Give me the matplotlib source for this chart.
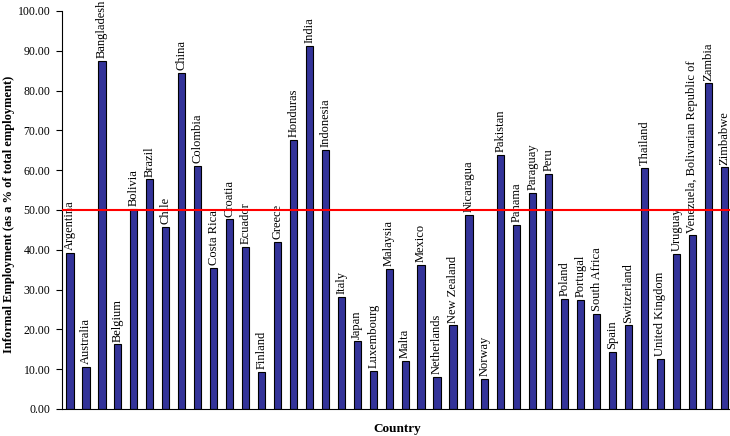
import matplotlib.pyplot as plt

countries = ["Argentina", "Australia", "Bangladesh", "Belgium", "Bolivia", "Brazil",
             "Chile", "China", "Colombia", "Costa Rica", "Croatia", "Ecuador",
             "Finland", "Greece", "Honduras", "India", "Indonesia", "Italy", "Japan",
             "Luxembourg", "Malaysia", "Malta", "Mexico", "Netherlands", "New Zealand",
             "Nicaragua", "Norway", "Pakistan", "Panama", "Paraguay", "Peru", "Poland",
             "Portugal", "South Africa", "Spain", "Switzerland", "Thailand",
             "United Kingdom", "Uruguay", "Venezuela, Bolivarian Republic of",
             "Zambia", "Zimbabwe"]
informal = [39.3, 10.6, 87.4, 16.2, 50.3, 57.7,
            45.8, 84.4, 61.1, 35.5, 47.6, 40.7,
            9.3, 42.0, 67.6, 91.3, 65.0, 28.2, 17.0,
            9.5, 35.1, 12.1, 36.1, 8.0, 21.0,
            48.7, 7.6, 63.9, 46.2, 54.3, 59.0, 27.6,
            27.4, 23.9, 14.3, 21.0, 60.5,
            12.5, 39.0, 43.6,
            81.8, 60.7]
threshold = 50.0

plt.rcParams['font.family'] = ['Liberation Serif', 'DejaVu Serif']

fig = plt.figure(figsize=(7.3, 4.36), dpi=100)
ax = fig.add_axes([0.085, 0.062, 0.918, 0.913])

x = list(range(len(countries)))
ax.bar(x, informal, width=0.45, color="#333399", edgecolor="black", linewidth=0.8, zorder=2)
for xi, v, name in zip(x, informal, countries):
    ax.annotate(name, (xi, v), xytext=(0, 2), textcoords="offset points",
                rotation=90, ha="center", va="bottom", fontsize=9)

ax.axhline(threshold, color="red", linewidth=1.5, zorder=3)

ax.set_xlim(-0.5, len(countries) - 0.5)
ax.set_ylim(0, 100)
ax.set_yticks(range(0, 101, 10))
ax.set_yticklabels(["%.2f" % t for t in range(0, 101, 10)], fontsize=8.5)
ax.set_xticks([])
ax.tick_params(axis="y", direction="out", length=4.5, width=0.8, pad=4)
ax.spines["top"].set_visible(False)
ax.spines["right"].set_visible(False)
ax.set_xlabel("Country", fontsize=9.5, fontweight="bold", labelpad=10)
ax.set_ylabel("Informal Employment (as a % of total employment)", fontsize=9,
              fontweight="bold")
ax.yaxis.set_label_coords(-0.07, 0.49)

fig.savefig("out.png", dpi=100)
